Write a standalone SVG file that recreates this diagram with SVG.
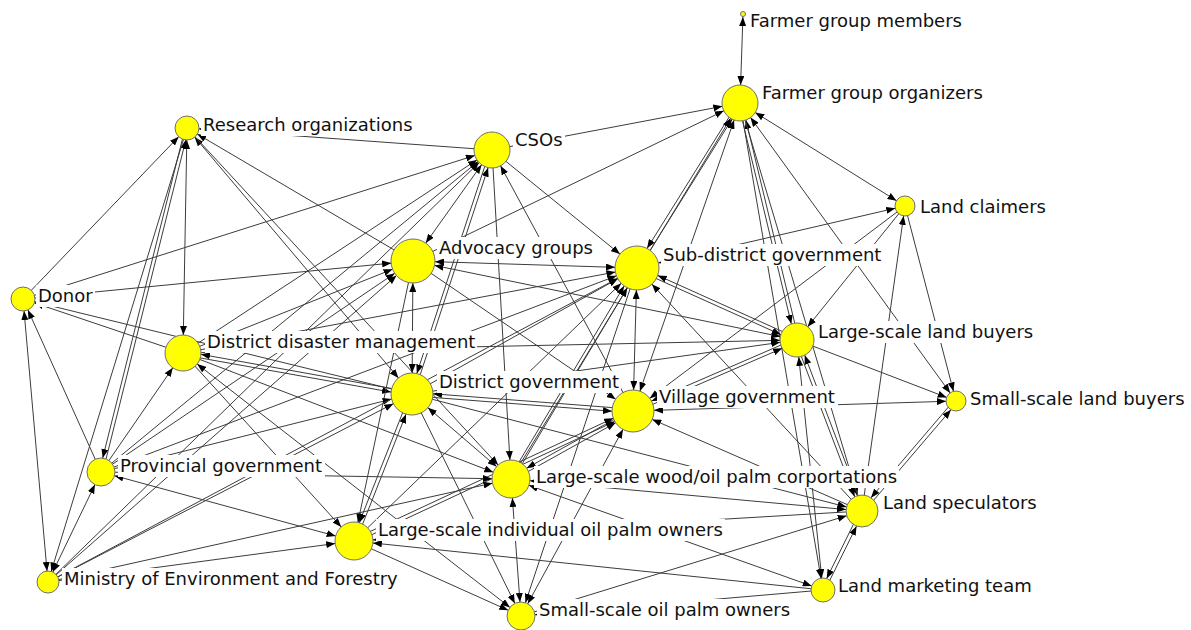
<svg xmlns="http://www.w3.org/2000/svg" width="1191" height="630" viewBox="0 0 1191 630">
<style>
.e line{stroke:#3c3c3c;stroke-width:1;fill:none}
.n circle{fill:#ffff00;stroke:#6e6e6e;stroke-width:1}
.n rect{fill:#ffffff}
.n text{font-family:"DejaVu Sans",Verdana,sans-serif;font-size:18px;fill:#111}
.ah{fill:#000}
</style>
<defs>
<marker id="m3" markerUnits="userSpaceOnUse" markerWidth="9" markerHeight="7" refX="12" refY="3.5" orient="auto-start-reverse"><path class="ah" d="M0,0L9,3.5L0,7z"/></marker>
<marker id="m10" markerUnits="userSpaceOnUse" markerWidth="9" markerHeight="7" refX="19" refY="3.5" orient="auto-start-reverse"><path class="ah" d="M0,0L9,3.5L0,7z"/></marker>
<marker id="m11" markerUnits="userSpaceOnUse" markerWidth="9" markerHeight="7" refX="20" refY="3.5" orient="auto-start-reverse"><path class="ah" d="M0,0L9,3.5L0,7z"/></marker>
<marker id="m12" markerUnits="userSpaceOnUse" markerWidth="9" markerHeight="7" refX="21" refY="3.5" orient="auto-start-reverse"><path class="ah" d="M0,0L9,3.5L0,7z"/></marker>
<marker id="m14" markerUnits="userSpaceOnUse" markerWidth="9" markerHeight="7" refX="23" refY="3.5" orient="auto-start-reverse"><path class="ah" d="M0,0L9,3.5L0,7z"/></marker>
<marker id="m16" markerUnits="userSpaceOnUse" markerWidth="9" markerHeight="7" refX="25" refY="3.5" orient="auto-start-reverse"><path class="ah" d="M0,0L9,3.5L0,7z"/></marker>
<marker id="m17" markerUnits="userSpaceOnUse" markerWidth="9" markerHeight="7" refX="26" refY="3.5" orient="auto-start-reverse"><path class="ah" d="M0,0L9,3.5L0,7z"/></marker>
<marker id="m18" markerUnits="userSpaceOnUse" markerWidth="9" markerHeight="7" refX="27" refY="3.5" orient="auto-start-reverse"><path class="ah" d="M0,0L9,3.5L0,7z"/></marker>
<marker id="m19" markerUnits="userSpaceOnUse" markerWidth="9" markerHeight="7" refX="28" refY="3.5" orient="auto-start-reverse"><path class="ah" d="M0,0L9,3.5L0,7z"/></marker>
<marker id="m21" markerUnits="userSpaceOnUse" markerWidth="9" markerHeight="7" refX="30" refY="3.5" orient="auto-start-reverse"><path class="ah" d="M0,0L9,3.5L0,7z"/></marker>
<marker id="m22" markerUnits="userSpaceOnUse" markerWidth="9" markerHeight="7" refX="31" refY="3.5" orient="auto-start-reverse"><path class="ah" d="M0,0L9,3.5L0,7z"/></marker>
</defs>
<rect x="0" y="0" width="1191" height="630" fill="#ffffff"/>
<g id="edges" class="e">
<line x1="743" y1="14" x2="740" y2="103" marker-start="url(#m3)" marker-end="url(#m18)"/>
<line x1="492" y1="150" x2="740" y2="103" marker-end="url(#m18)"/>
<line x1="413" y1="261" x2="740" y2="103" marker-end="url(#m18)"/>
<line x1="740" y1="103" x2="905" y2="206" marker-start="url(#m18)" marker-end="url(#m10)"/>
<line x1="638.5" y1="269" x2="741.5" y2="104" marker-end="url(#m18)"/>
<line x1="738.5" y1="102" x2="635.5" y2="267" marker-end="url(#m22)"/>
<line x1="511" y1="479" x2="740" y2="103" marker-end="url(#m18)"/>
<line x1="740" y1="103" x2="633" y2="411" marker-start="url(#m18)" marker-end="url(#m21)"/>
<line x1="738.3" y1="103.4" x2="795.3" y2="340.4" marker-end="url(#m17)"/>
<line x1="798.7" y1="339.6" x2="741.7" y2="102.6" marker-end="url(#m18)"/>
<line x1="740" y1="103" x2="862" y2="511" marker-end="url(#m16)"/>
<line x1="740" y1="103" x2="823" y2="590" marker-end="url(#m12)"/>
<line x1="740" y1="103" x2="956" y2="401" marker-start="url(#m18)" marker-end="url(#m10)"/>
<line x1="492" y1="150" x2="187" y2="128" marker-end="url(#m12)"/>
<line x1="23" y1="299" x2="187" y2="128" marker-end="url(#m12)"/>
<line x1="187" y1="128" x2="183" y2="353" marker-start="url(#m12)" marker-end="url(#m18)"/>
<line x1="185.3" y1="127.6" x2="99.3" y2="471.6" marker-end="url(#m14)"/>
<line x1="102.7" y1="472.4" x2="188.7" y2="128.4" marker-end="url(#m12)"/>
<line x1="187" y1="128" x2="48" y2="582" marker-end="url(#m11)"/>
<line x1="187" y1="128" x2="412" y2="394" marker-start="url(#m12)" marker-end="url(#m21)"/>
<line x1="187" y1="128" x2="511" y2="479" marker-end="url(#m19)"/>
<line x1="413" y1="261" x2="187" y2="128" marker-end="url(#m12)"/>
<line x1="23" y1="299" x2="492" y2="150" marker-end="url(#m18)"/>
<line x1="23" y1="299" x2="413" y2="261" marker-end="url(#m22)"/>
<line x1="183" y1="353" x2="23" y2="299" marker-end="url(#m12)"/>
<line x1="412" y1="394" x2="23" y2="299" marker-end="url(#m12)"/>
<line x1="23" y1="299" x2="48" y2="582" marker-start="url(#m12)" marker-end="url(#m11)"/>
<line x1="101" y1="472" x2="23" y2="299" marker-end="url(#m12)"/>
<line x1="183" y1="353" x2="492" y2="150" marker-end="url(#m18)"/>
<line x1="101" y1="472" x2="492" y2="150" marker-end="url(#m18)"/>
<line x1="413" y1="261" x2="492" y2="150" marker-start="url(#m22)" marker-end="url(#m18)"/>
<line x1="490.3" y1="149.4" x2="410.3" y2="393.4" marker-end="url(#m21)"/>
<line x1="413.7" y1="394.6" x2="493.7" y2="150.6" marker-end="url(#m18)"/>
<line x1="492" y1="150" x2="511" y2="479" marker-end="url(#m19)"/>
<line x1="633" y1="411" x2="492" y2="150" marker-end="url(#m18)"/>
<line x1="492" y1="150" x2="637" y2="268" marker-end="url(#m22)"/>
<line x1="183" y1="353" x2="413" y2="261" marker-end="url(#m22)"/>
<line x1="101" y1="472" x2="413" y2="261" marker-end="url(#m22)"/>
<line x1="48" y1="582" x2="413" y2="261" marker-end="url(#m22)"/>
<line x1="48" y1="582" x2="412" y2="394" marker-end="url(#m21)"/>
<line x1="182.7" y1="354.8" x2="411.7" y2="395.8" marker-end="url(#m21)"/>
<line x1="412.3" y1="392.2" x2="183.3" y2="351.2" marker-end="url(#m18)"/>
<line x1="183" y1="353" x2="797" y2="340" marker-end="url(#m17)"/>
<line x1="101" y1="472" x2="183" y2="353" marker-end="url(#m18)"/>
<line x1="183" y1="353" x2="521" y2="616" marker-start="url(#m18)" marker-end="url(#m14)"/>
<line x1="183" y1="353" x2="354" y2="541" marker-end="url(#m19)"/>
<line x1="183" y1="353" x2="637" y2="268" marker-end="url(#m22)"/>
<line x1="413" y1="261" x2="637" y2="268" marker-start="url(#m22)" marker-end="url(#m22)"/>
<line x1="413" y1="261" x2="797" y2="340" marker-start="url(#m22)" marker-end="url(#m17)"/>
<line x1="413" y1="261" x2="412" y2="394" marker-start="url(#m22)" marker-end="url(#m21)"/>
<line x1="413" y1="261" x2="354" y2="541" marker-end="url(#m19)"/>
<line x1="412" y1="394" x2="637" y2="268" marker-end="url(#m22)"/>
<line x1="354" y1="541" x2="637" y2="268" marker-end="url(#m22)"/>
<line x1="512.6" y1="479.9" x2="638.6" y2="268.9" marker-end="url(#m22)"/>
<line x1="509.4" y1="478.1" x2="635.4" y2="267.1" marker-end="url(#m22)"/>
<line x1="101" y1="472" x2="637" y2="268" marker-end="url(#m22)"/>
<line x1="637" y1="268" x2="633" y2="411" marker-start="url(#m22)" marker-end="url(#m21)"/>
<line x1="862" y1="511" x2="637" y2="268" marker-end="url(#m22)"/>
<line x1="636.3" y1="269.6" x2="796.3" y2="341.6" marker-end="url(#m17)"/>
<line x1="797.7" y1="338.4" x2="637.7" y2="266.4" marker-end="url(#m22)"/>
<line x1="905" y1="206" x2="637" y2="268" marker-start="url(#m10)" marker-end="url(#m22)"/>
<line x1="905" y1="206" x2="797" y2="340" marker-end="url(#m17)"/>
<line x1="905" y1="206" x2="633" y2="411" marker-end="url(#m21)"/>
<line x1="905" y1="206" x2="956" y2="401" marker-end="url(#m10)"/>
<line x1="862" y1="511" x2="905" y2="206" marker-end="url(#m10)"/>
<line x1="797" y1="340" x2="956" y2="401" marker-end="url(#m10)"/>
<line x1="412" y1="394" x2="797" y2="340" marker-end="url(#m17)"/>
<line x1="633.7" y1="412.6" x2="797.7" y2="341.6" marker-end="url(#m17)"/>
<line x1="796.3" y1="338.4" x2="632.3" y2="409.4" marker-end="url(#m21)"/>
<line x1="795.3" y1="340.6" x2="860.3" y2="511.6" marker-end="url(#m16)"/>
<line x1="863.7" y1="510.4" x2="798.7" y2="339.4" marker-end="url(#m17)"/>
<line x1="797" y1="340" x2="823" y2="590" marker-start="url(#m17)" marker-end="url(#m12)"/>
<line x1="101" y1="472" x2="412" y2="394" marker-end="url(#m21)"/>
<line x1="411.9" y1="395.8" x2="632.9" y2="412.8" marker-end="url(#m21)"/>
<line x1="633.1" y1="409.2" x2="412.1" y2="392.2" marker-end="url(#m21)"/>
<line x1="412" y1="394" x2="511" y2="479" marker-start="url(#m21)" marker-end="url(#m19)"/>
<line x1="412" y1="394" x2="521" y2="616" marker-end="url(#m14)"/>
<line x1="355.7" y1="541.7" x2="413.7" y2="394.7" marker-end="url(#m21)"/>
<line x1="410.3" y1="393.3" x2="352.3" y2="540.3" marker-end="url(#m19)"/>
<line x1="412" y1="394" x2="862" y2="511" marker-end="url(#m16)"/>
<line x1="633" y1="411" x2="956" y2="401" marker-start="url(#m21)" marker-end="url(#m10)"/>
<line x1="511.9" y1="480.6" x2="633.9" y2="412.6" marker-end="url(#m21)"/>
<line x1="632.1" y1="409.4" x2="510.1" y2="477.4" marker-end="url(#m19)"/>
<line x1="354.8" y1="542.6" x2="633.8" y2="412.6" marker-end="url(#m21)"/>
<line x1="353.2" y1="539.4" x2="632.2" y2="409.4" marker-end="url(#m21)"/>
<line x1="521" y1="616" x2="633" y2="411" marker-start="url(#m14)" marker-end="url(#m21)"/>
<line x1="862" y1="511" x2="633" y2="411" marker-end="url(#m21)"/>
<line x1="413" y1="261" x2="633" y2="411" marker-end="url(#m21)"/>
<line x1="511" y1="479" x2="521" y2="616" marker-start="url(#m19)" marker-end="url(#m14)"/>
<line x1="511" y1="479" x2="823" y2="590" marker-start="url(#m19)" marker-end="url(#m12)"/>
<line x1="862" y1="511" x2="511" y2="479" marker-start="url(#m16)" marker-end="url(#m19)"/>
<line x1="101" y1="472" x2="511" y2="479" marker-end="url(#m19)"/>
<line x1="48" y1="582" x2="511" y2="479" marker-end="url(#m19)"/>
<line x1="48" y1="582" x2="354" y2="541" marker-end="url(#m19)"/>
<line x1="823" y1="590" x2="354" y2="541" marker-end="url(#m19)"/>
<line x1="101" y1="472" x2="354" y2="541" marker-start="url(#m14)" marker-end="url(#m19)"/>
<line x1="862" y1="511" x2="354" y2="541" marker-end="url(#m19)"/>
<line x1="354" y1="541" x2="521" y2="616" marker-end="url(#m14)"/>
<line x1="637" y1="268" x2="521" y2="616" marker-end="url(#m14)"/>
<line x1="860.4" y1="510.2" x2="821.4" y2="589.2" marker-end="url(#m12)"/>
<line x1="824.6" y1="590.8" x2="863.6" y2="511.8" marker-end="url(#m16)"/>
<line x1="863.4" y1="512.2" x2="957.4" y2="402.2" marker-end="url(#m10)"/>
<line x1="954.6" y1="399.8" x2="860.6" y2="509.8" marker-end="url(#m16)"/>
<line x1="521" y1="616" x2="862" y2="511" marker-end="url(#m16)"/>
<line x1="823" y1="590" x2="521" y2="616" marker-end="url(#m14)"/>
<line x1="101" y1="472" x2="48" y2="582" marker-start="url(#m14)" marker-end="url(#m11)"/>
<line x1="48" y1="582" x2="492" y2="150" marker-end="url(#m18)"/>
<line x1="48" y1="582" x2="637" y2="268" marker-end="url(#m22)"/>
<line x1="183" y1="353" x2="511" y2="479" marker-end="url(#m19)"/>
</g>
<g id="n-farmer-group-members" class="n"><rect x="748" y="10" width="218" height="22"/><text x="750" y="27">Farmer group members</text><circle cx="743" cy="14" r="2.5"/></g>
<g id="n-farmer-group-organizers" class="n"><rect x="760" y="82" width="228" height="22"/><text x="762" y="99">Farmer group organizers</text><circle cx="740" cy="103" r="18"/></g>
<g id="n-research-organizations" class="n"><rect x="201" y="114" width="215" height="22"/><text x="203" y="131">Research organizations</text><circle cx="187" cy="128" r="12"/></g>
<g id="n-csos" class="n"><rect x="513" y="129" width="52" height="22"/><text x="515" y="146">CSOs</text><circle cx="492" cy="150" r="18"/></g>
<g id="n-land-claimers" class="n"><rect x="918" y="196" width="130" height="22"/><text x="920" y="213">Land claimers</text><circle cx="905" cy="206" r="10"/></g>
<g id="n-advocacy-groups" class="n"><rect x="437" y="237" width="159" height="22"/><text x="439" y="254">Advocacy groups</text><circle cx="413" cy="261" r="22"/></g>
<g id="n-sub-district-government" class="n"><rect x="661" y="244" width="223" height="22"/><text x="663" y="261">Sub-district government</text><circle cx="637" cy="268" r="22"/></g>
<g id="n-donor" class="n"><rect x="36" y="285" width="59" height="22"/><text x="38" y="302">Donor</text><circle cx="23" cy="299" r="12"/></g>
<g id="n-large-scale-land-buyers" class="n"><rect x="816" y="321" width="220" height="22"/><text x="818" y="338">Large-scale land buyers</text><circle cx="797" cy="340" r="17"/></g>
<g id="n-district-disaster-management" class="n"><rect x="205" y="331" width="272" height="22"/><text x="207" y="348">District disaster management</text><circle cx="183" cy="353" r="18"/></g>
<g id="n-district-government" class="n"><rect x="437" y="371" width="184" height="22"/><text x="439" y="388">District government</text><circle cx="412" cy="394" r="21"/></g>
<g id="n-village-government" class="n"><rect x="657" y="386" width="181" height="22"/><text x="659" y="403">Village government</text><circle cx="633" cy="411" r="21"/></g>
<g id="n-small-scale-land-buyers" class="n"><rect x="968" y="388" width="219" height="22"/><text x="970" y="405">Small-scale land buyers</text><circle cx="956" cy="401" r="10"/></g>
<g id="n-provincial-government" class="n"><rect x="118" y="455" width="207" height="22"/><text x="120" y="472">Provincial government</text><circle cx="101" cy="472" r="14"/></g>
<g id="n-large-scale-wood-oil-palm-corportations" class="n"><rect x="534" y="466" width="365" height="22"/><text x="536" y="483">Large-scale wood/oil palm corportations</text><circle cx="511" cy="479" r="19"/></g>
<g id="n-land-speculators" class="n"><rect x="881" y="492" width="158" height="22"/><text x="883" y="509">Land speculators</text><circle cx="862" cy="511" r="16"/></g>
<g id="n-large-scale-individual-oil-palm-owners" class="n"><rect x="376" y="519" width="349" height="22"/><text x="378" y="536">Large-scale individual oil palm owners</text><circle cx="354" cy="541" r="19"/></g>
<g id="n-ministry-of-environment-and-forestry" class="n"><rect x="62" y="568" width="339" height="22"/><text x="64" y="585">Ministry of Environment and Forestry</text><circle cx="48" cy="582" r="11"/></g>
<g id="n-land-marketing-team" class="n"><rect x="836" y="575" width="198" height="22"/><text x="838" y="592">Land marketing team</text><circle cx="823" cy="590" r="12"/></g>
<g id="n-small-scale-oil-palm-owners" class="n"><rect x="537" y="599" width="255" height="22"/><text x="539" y="616">Small-scale oil palm owners</text><circle cx="521" cy="616" r="14"/></g>
</svg>
